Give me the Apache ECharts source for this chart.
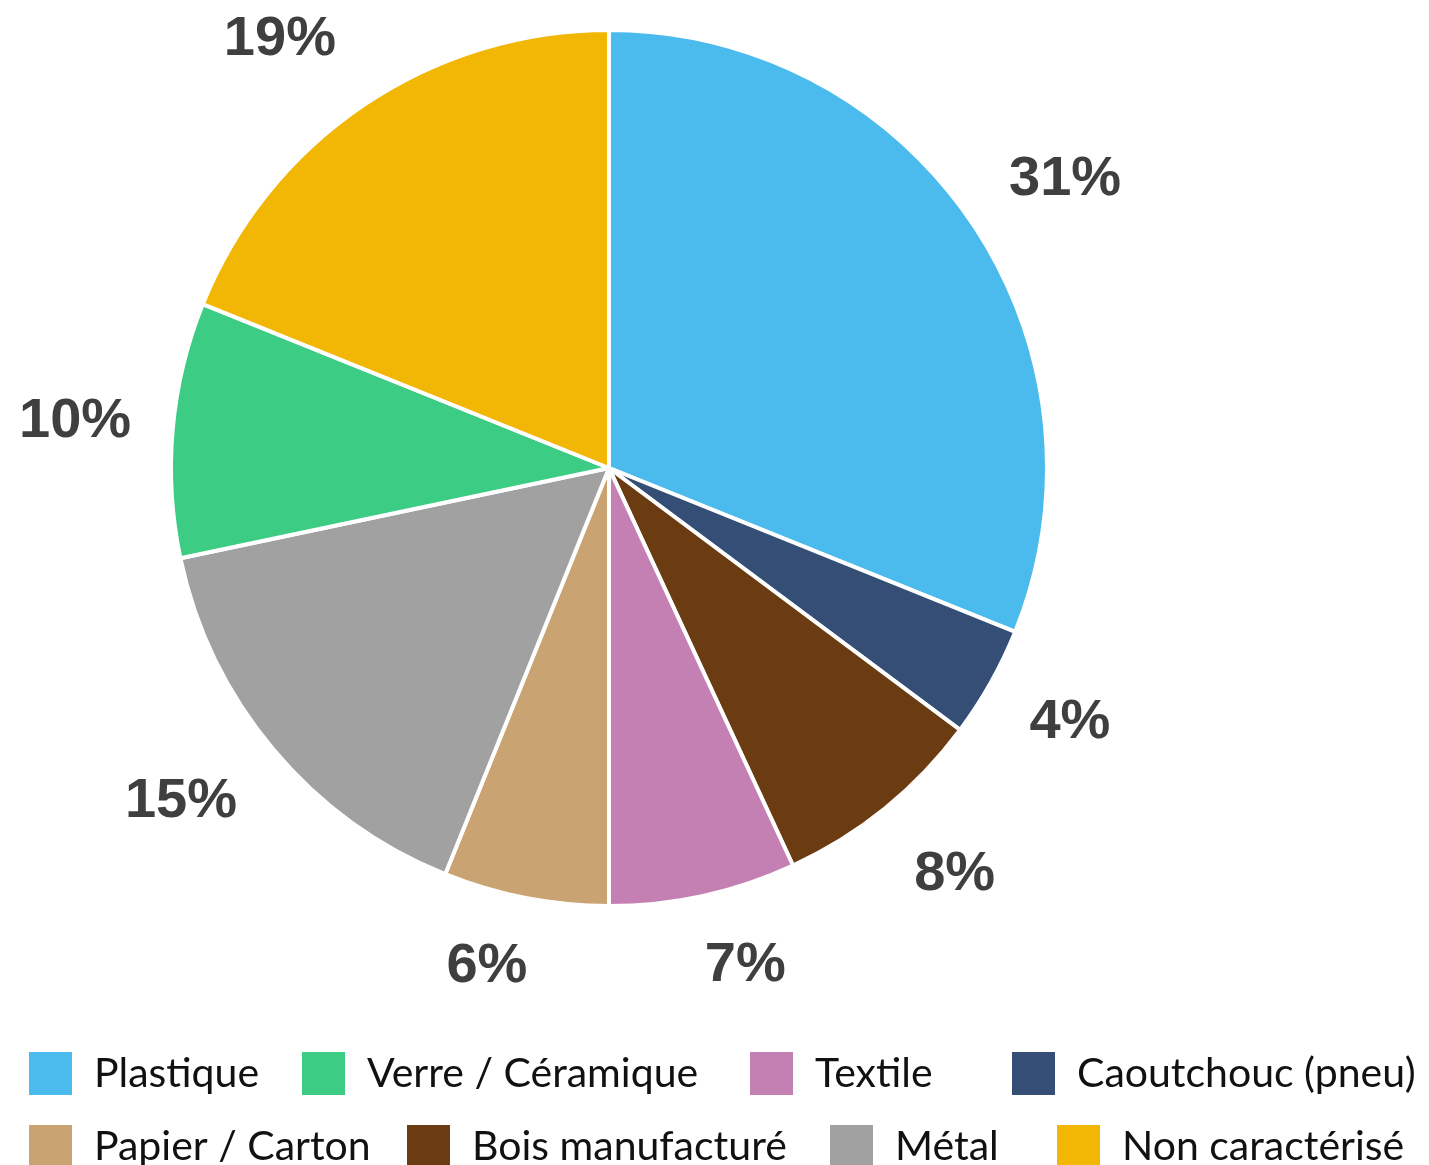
<!DOCTYPE html>
<html>
<head>
<meta charset="utf-8">
<script src="https://cdn.jsdelivr.net/npm/echarts@6/dist/echarts.min.js"></script>
<style>
  html, body { margin: 0; padding: 0; background: #fff; }
  #chart { width: 1429px; height: 1165px; }
</style>
</head>
<body>
<div id="chart"></div>
<script>
// 数据（顺时针，从12点开始）
var categories = ['Plastique', 'Caoutchouc (pneu)', 'Bois manufacturé', 'Textile', 'Papier / Carton', 'Métal', 'Verre / Céramique', 'Non caractérisé'];
var values = [31.1, 4.1, 7.9, 6.9, 6.1, 15.6, 9.4, 18.9];
var percentLabels = ['31%', '4%', '8%', '7%', '6%', '15%', '10%', '19%'];
var colors = ['#4abbec', '#344e75', '#6b3b12', '#c480b2', '#c9a472', '#a1a1a1', '#3ccc84', '#f2b705'];

// 图例顺序（两行）
var legendRow1 = ['Plastique', 'Verre / Céramique', 'Textile', 'Caoutchouc (pneu)'];
var legendRow2 = ['Papier / Carton', 'Bois manufacturé', 'Métal', 'Non caractérisé'];

// 布局：标签微调、图例位置
var labelOffsets = [[16, 9], [-2, -6], [11, -6], [22, -21], [-21, -23], [-21, -7], [-5, 0], [-32, 12]];
var legendX1 = [27, 300, 748, 1010];
var legendX2 = [27, 405, 828, 1055];

var pieData = categories.map(function (name, i) {
  return { name: name, value: values[i], itemStyle: { color: colors[i] } };
});

function makeLegend(name, left, top) {
  return {
    data: [name],
    left: left,
    top: top,
    orient: 'horizontal',
    itemWidth: 45,
    itemHeight: 45,
    icon: 'rect',
    selectedMode: false,
    padding: 0,
    textStyle: {
      fontFamily: 'Lato',
      fontSize: 41,
      color: '#111',
      padding: [0, 0, 0, 16]
    }
  };
}

var legends = [];
legendRow1.forEach(function (n, i) { legends.push(makeLegend(n, legendX1[i], 1050)); });
legendRow2.forEach(function (n, i) { legends.push(makeLegend(n, legendX2[i], 1123)); });

var chart = echarts.init(document.getElementById('chart'));
chart.setOption({
  backgroundColor: '#fff',
  animation: false,
  legend: legends,
  series: [
    {
      type: 'pie',
      center: [609, 468],
      radius: [0, 438],
      startAngle: 90,
      clockwise: true,
      silent: true,
      itemStyle: { borderColor: '#fff', borderWidth: 4 },
      label: { show: false },
      labelLine: { show: false },
      data: pieData
    },
    {
      // 透明外环，仅用于放置百分比标签
      type: 'pie',
      center: [609, 468],
      radius: [508, 548],
      startAngle: 90,
      clockwise: true,
      silent: true,
      itemStyle: { color: 'rgba(0,0,0,0)' },
      label: {
        show: true,
        position: 'inside',
        fontFamily: 'Liberation Sans',
        fontWeight: 'bold',
        fontSize: 56,
        color: '#3f3f3f'
      },
      labelLine: { show: false },
      data: pieData.map(function (d, i) {
        return {
          name: d.name,
          value: d.value,
          label: { formatter: percentLabels[i], offset: labelOffsets[i] }
        };
      })
    }
  ]
});
</script>
</body>
</html>
